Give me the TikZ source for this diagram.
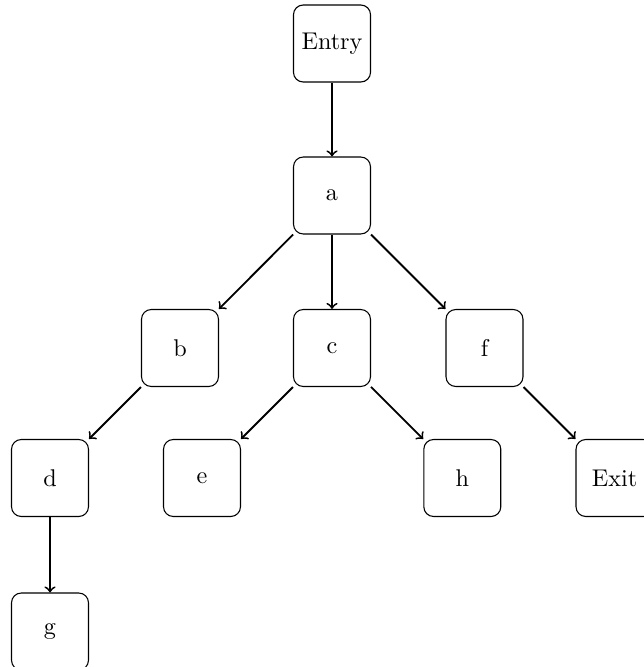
\documentclass[tikz,border=0pt]{standalone}
\begin{document}
\begin{tikzpicture}[x=0.4132pt,y=-0.4132pt,
  box/.style={draw,rounded corners=4pt,minimum size=31.8pt,inner sep=3.33pt,line width=0.45pt},
  edge/.style={->,line width=0.75pt}]
\useasboundingbox (0,0) rectangle (644,667);
\clip (0,0) rectangle (644,667);
\node[box] (entry) at (332,43.5) {Entry};
\node[box] (a) at (332,195.5) {a};
\node[box] (b) at (180,348) {b};
\node[box] (c) at (332,348) {c};
\node[box] (f) at (484.5,348) {f};
\node[box] (d) at (50,478) {d};
\node[box] (e) at (202,478) {e};
\node[box] (h) at (462.3,478) {h};
\node[box] (exit) at (614.5,478) {Exit};
\node[box] (g) at (50,631.5) {g};
\draw[edge] (entry) -- (a);
\draw[edge] (a) -- (b);
\draw[edge] (a) -- (c);
\draw[edge] (a) -- (f);
\draw[edge] (b) -- (d);
\draw[edge] (c) -- (e);
\draw[edge] (c) -- (h);
\draw[edge] (f) -- (exit);
\draw[edge] (d) -- (g);
\end{tikzpicture}
\end{document}
